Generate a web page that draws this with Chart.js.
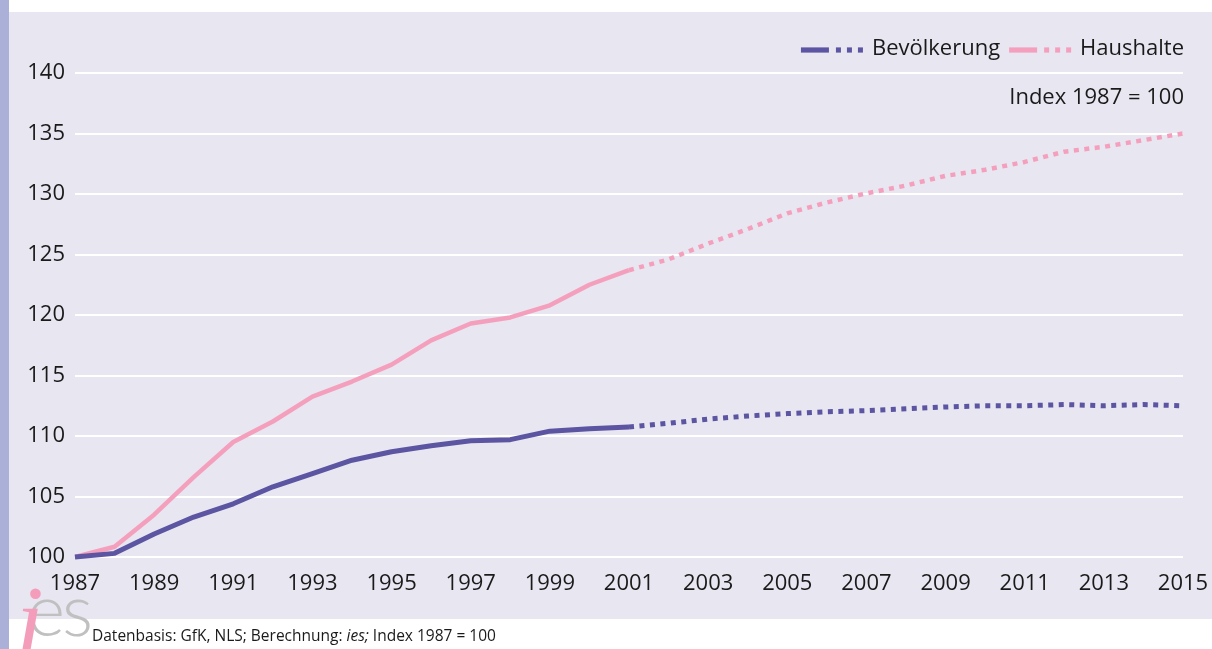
<!DOCTYPE html>
<html lang="de">
<head>
<meta charset="utf-8">
<title>Bevölkerung und Haushalte</title>
<script src="https://cdn.jsdelivr.net/npm/chart.js@4.4.1/dist/chart.umd.min.js"></script>
<style>
  html, body { margin: 0; padding: 0; }
  body { width: 1212px; height: 649px; position: relative; overflow: hidden; background: #ffffff;
         font-family: "Open Sans", "DejaVu Sans", sans-serif; color: #1a1a1a; }
  #strip { position: absolute; left: 0; top: 0; width: 9px; height: 649px; background: #aab0d7; }
  #panel { position: absolute; left: 9px; top: 12px; width: 1203px; height: 607px; background: #e8e6f1; }
  #chart { position: absolute; left: 0; top: 0; }
  #logo { position: absolute; left: 0; top: 560px; height: 100px; width: 100px; }
  #logo .i { position: absolute; left: 16px; top: 11px; font-family: "Liberation Serif", serif; font-style: italic;
             font-size: 100px; line-height: 100px; color: #f49dbb; }
  #logo .es { position: absolute; left: 27px; top: 6px; font-family: "Lato", sans-serif; font-weight: 300;
              font-size: 73px; line-height: 84px; color: #c0c0c0; letter-spacing: -3px; }
  #source { position: absolute; left: 92px; top: 625px; font-size: 15.5px; line-height: 20px; color: #1a1a1a; white-space: nowrap; }
</style>
</head>
<body>
<div id="strip"></div>
<div id="panel"></div>
<canvas id="chart" width="1212" height="649"></canvas>
<div id="logo"><span class="es">es</span><span class="i">i</span></div>
<div id="source">Datenbasis: GfK, NLS; Berechnung: <i>ies;</i> Index 1987 = 100</div>

<script>
// Jahre der Zeitreihe
const years = ['1987','1988','1989','1990','1991','1992','1993','1994','1995','1996',
               '1997','1998','1999','2000','2001','2002','2003','2004','2005','2006',
               '2007','2008','2009','2010','2011','2012','2013','2014','2015'];

// Beschriftete Jahre der x-Achse
const yearTicks = ['1987','1989','1991','1993','1995','1997','1999','2001',
                   '2003','2005','2007','2009','2011','2013','2015'];

// Index 1987 = 100
const bevoelkerung = [100.0, 100.3, 101.9, 103.3, 104.4, 105.8, 106.9, 108.0, 108.7, 109.2,
                      109.6, 109.7, 110.4, 110.6, 110.75, 111.05, 111.4, 111.65, 111.85, 112.0,
                      112.1, 112.25, 112.4, 112.5, 112.5, 112.6, 112.5, 112.6, 112.5];
const haushalte    = [100.0, 100.85, 103.5, 106.6, 109.5, 111.2, 113.25, 114.5, 115.9, 117.9,
                      119.3, 119.8, 120.8, 122.5, 123.7, 124.6, 125.9, 127.1, 128.4, 129.3,
                      130.05, 130.7, 131.5, 132.0, 132.65, 133.5, 133.9, 134.45, 135.0];

// ab diesem Jahr gepunktet (Vorausberechnung)
const forecastFrom = '2001';

const seriesNames = ['Bevölkerung', 'Haushalte'];
const indexNote = 'Index 1987 = 100';

const PURPLE = '#5b55a2';
const PINK = '#f4a0bd';
const TEXT = '#1a1a1a';
const FONT = '"Open Sans", "DejaVu Sans", sans-serif';
const DOT = [5, 5.5];

const forecastIdx = years.indexOf(forecastFrom);
const dotted = ctx => (ctx.p0DataIndex >= forecastIdx ? DOT : undefined);

// Legende mit durchgezogenem und gepunktetem Linienstück, dazu der Indexhinweis
const seriesKey = {
  id: 'seriesKey',
  afterDraw(chart) {
    const { ctx, chartArea } = chart;
    ctx.save();
    ctx.font = '22px ' + FONT;
    ctx.fillStyle = TEXT;
    ctx.textBaseline = 'middle';
    const right = chartArea.right + 1;
    const y = 49;
    let x = right;
    const items = chart.data.datasets.slice().reverse();
    items.forEach(ds => {
      const w = ctx.measureText(ds.label).width;
      x -= w;
      ctx.textAlign = 'left';
      ctx.fillText(ds.label, x, y);
      x -= 9;
      // gepunktetes Stück: drei Punkte
      ctx.fillStyle = ds.borderColor;
      for (let d = 0; d < 3; d++) {
        x -= 5;
        ctx.fillRect(x, y + 1 - 2.6, 5, 5.2);
        if (d < 2) x -= 6;
      }
      x -= 7;
      // durchgezogenes Stück
      ctx.fillRect(x - 28, y + 1 - 2.6, 28, 5.2);
      x -= 28;
      ctx.fillStyle = TEXT;
      x -= 9;
    });
    ctx.textAlign = 'right';
    ctx.fillText(indexNote, right, 98);
    ctx.restore();
  }
};

new Chart(document.getElementById('chart'), {
  type: 'line',
  data: {
    labels: years,
    datasets: [
      { label: seriesNames[0], data: bevoelkerung, borderColor: PURPLE, backgroundColor: PURPLE,
        borderWidth: 5, segment: { borderDash: dotted } },
      { label: seriesNames[1], data: haushalte, borderColor: PINK, backgroundColor: PINK,
        borderWidth: 4.5, segment: { borderDash: dotted } }
    ]
  },
  options: {
    responsive: false,
    animation: false,
    devicePixelRatio: 1,
    layout: { padding: { top: 73, right: 29, left: 0, bottom: 0 } },
    elements: {
      line: { tension: 0, borderCapStyle: 'butt', borderJoinStyle: 'round', fill: false },
      point: { radius: 0, hoverRadius: 0 }
    },
    datasets: { line: { clip: 10 } },
    plugins: { legend: { display: false }, tooltip: { enabled: false }, title: { display: false } },
    scales: {
      x: {
        type: 'category',
        offset: false,
        grid: { display: false },
        border: { display: false },
        afterFit: s => { s.height = 92; s.paddingLeft = 0; s.paddingRight = 0; },
        ticks: {
          autoSkip: false, maxRotation: 0, minRotation: 0, padding: 6,
          color: TEXT, font: { family: FONT, size: 22 },
          callback: function (v) { const l = this.getLabelForValue(v); return yearTicks.includes(l) ? l : ''; }
        }
      },
      y: {
        min: 100, max: 140,
        grid: { color: '#ffffff', lineWidth: 2, drawTicks: false },
        border: { display: false },
        afterFit: s => { s.width = 75; s.paddingTop = 0; s.paddingBottom = 0; },
        ticks: { stepSize: 5, padding: 10, color: TEXT, font: { family: FONT, size: 22 } }
      }
    }
  },
  plugins: [seriesKey]
});
</script>
</body>
</html>
